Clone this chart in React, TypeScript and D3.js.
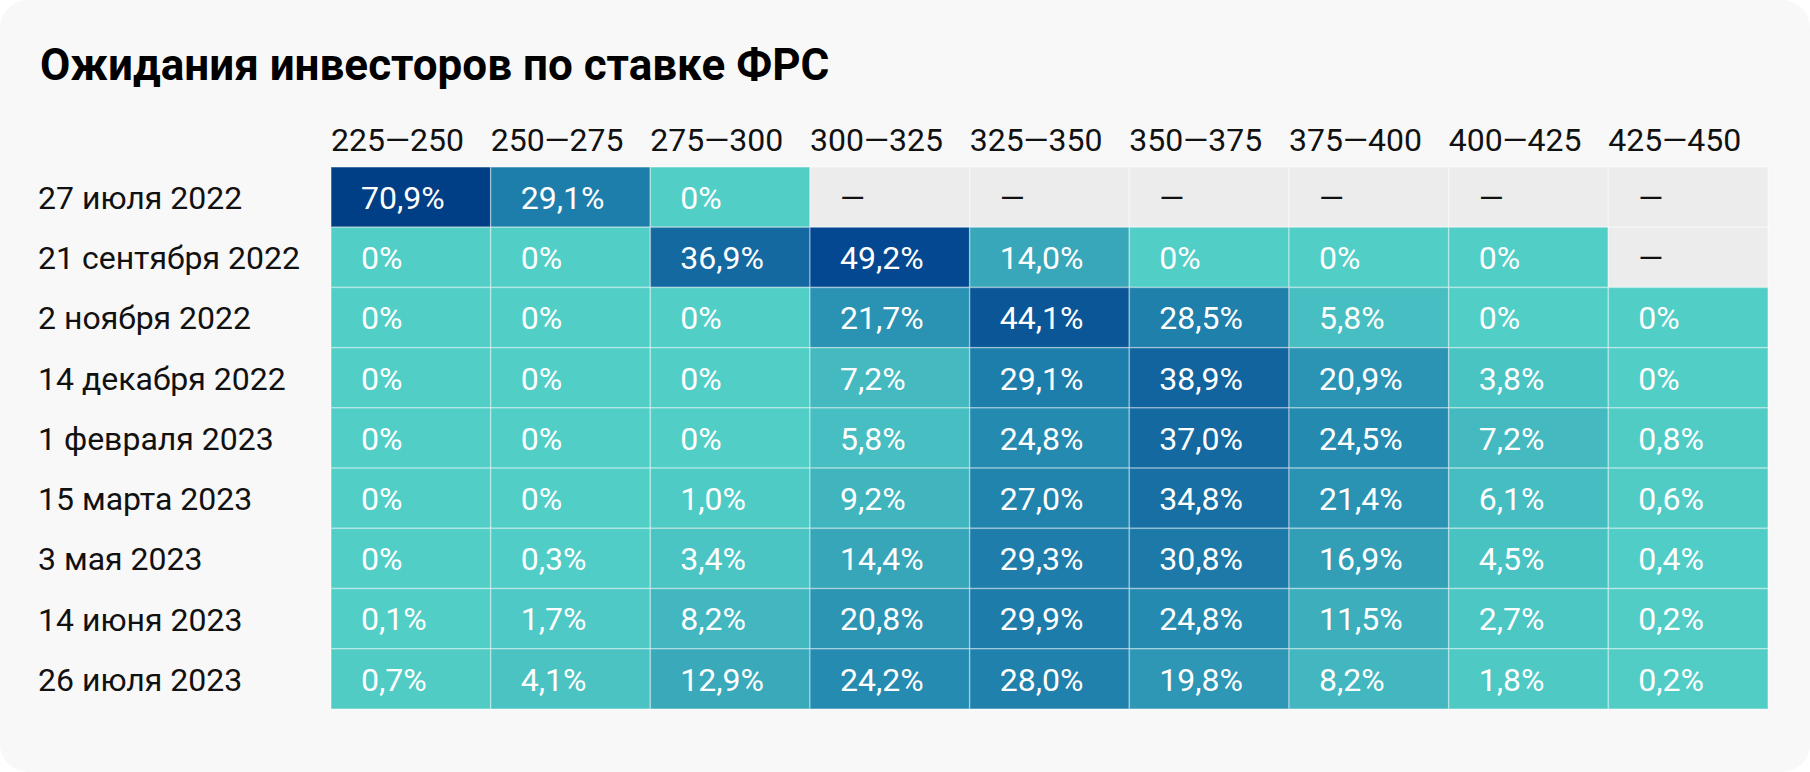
import React, { useEffect, useRef } from 'react';
import * as d3 from 'd3';

// Meeting dates (rows) and rate ranges in b.p. (columns)
const dates = [
  '27 июля 2022',
  '21 сентября 2022',
  '2 ноября 2022',
  '14 декабря 2022',
  '1 февраля 2023',
  '15 марта 2023',
  '3 мая 2023',
  '14 июня 2023',
  '26 июля 2023',
];

const ranges = ['225—250', '250—275', '275—300', '300—325', '325—350', '350—375', '375—400', '400—425', '425—450'];

// probabilities, %; null = no data (dash)
const jul22 = [70.9, 29.1, 0, null, null, null, null, null, null];
const sep22 = [0, 0, 36.9, 49.2, 14.0, 0, 0, 0, null];
const nov22 = [0, 0, 0, 21.7, 44.1, 28.5, 5.8, 0, 0];
const dec22 = [0, 0, 0, 7.2, 29.1, 38.9, 20.9, 3.8, 0];
const feb23 = [0, 0, 0, 5.8, 24.8, 37.0, 24.5, 7.2, 0.8];
const mar23 = [0, 0, 1.0, 9.2, 27.0, 34.8, 21.4, 6.1, 0.6];
const may23 = [0, 0.3, 3.4, 14.4, 29.3, 30.8, 16.9, 4.5, 0.4];
const jun23 = [0.1, 1.7, 8.2, 20.8, 29.9, 24.8, 11.5, 2.7, 0.2];
const jul23 = [0.7, 4.1, 12.9, 24.2, 28.0, 19.8, 8.2, 1.8, 0.2];

const values: (number | null)[][] = [jul22, sep22, nov22, dec22, feb23, mar23, may23, jun23, jul23];

const W = 1810;
const H = 772;
const FONT = 'Roboto, "Noto Sans", sans-serif';

const fmt = (v: number) => (v === 0 ? '0%' : v.toFixed(1).replace('.', ',') + '%');

const App: React.FC = () => {
  const svgRef = useRef<SVGSVGElement>(null);

  useEffect(() => {
    document.body.style.margin = '0';
    if (!svgRef.current) return;
    const svg = d3.select(svgRef.current);
    svg.selectAll('*').remove();

    // card
    svg.append('rect')
      .attr('x', 0).attr('y', 0)
      .attr('width', W).attr('height', H)
      .attr('rx', 28)
      .attr('fill', '#f8f8f8');

    svg.append('text')
      .text('Ожидания инвесторов по ставке ФРС')
      .attr('x', 40).attr('y', 80)
      .attr('font-family', FONT)
      .attr('font-weight', 700)
      .attr('font-size', 44)
      .attr('fill', '#000');

    const x = d3.scaleBand().domain(ranges).range([331, 1768]);
    const y = d3.scaleBand().domain(dates).range([167, 709]);

    const color = d3.scaleLinear<string>()
      .domain([0, 25, 50, 71])
      .range(['#51cec6', '#2489b0', '#02468f', '#003e85'])
      .clamp(true);

    // column headers
    svg.append('g').selectAll('text')
      .data(ranges)
      .enter()
      .append('text')
      .text(d => d)
      .attr('x', d => x(d)!)
      .attr('y', 151)
      .attr('font-family', FONT)
      .attr('font-size', 32)
      .attr('fill', '#111');

    // row labels
    svg.append('g').selectAll('text')
      .data(dates)
      .enter()
      .append('text')
      .text(d => d)
      .attr('x', 38)
      .attr('y', d => y(d)! + y.bandwidth() / 2)
      .attr('dy', '0.37em')
      .attr('font-family', FONT)
      .attr('font-size', 32)
      .attr('fill', '#111');

    const cells = values.flatMap((row, r) => row.map((v, c) => ({ r, c, v })));

    const cell = svg.append('g').selectAll('g')
      .data(cells)
      .enter()
      .append('g')
      .attr('transform', d => `translate(${x(ranges[d.c])}, ${y(dates[d.r])})`);

    cell.append('rect')
      .attr('width', x.bandwidth())
      .attr('height', y.bandwidth())
      .attr('fill', d => (d.v === null ? '#ececec' : color(d.v)))
      .attr('stroke', 'rgba(255,255,255,0.35)')
      .attr('stroke-width', 1.5);

    cell.append('text')
      .text(d => (d.v === null ? '—' : fmt(d.v)))
      .attr('x', 30)
      .attr('y', y.bandwidth() / 2)
      .attr('dy', '0.37em')
      .attr('font-family', FONT)
      .attr('font-size', 32)
      .attr('fill', d => (d.v === null ? '#111' : '#fff'));
  }, []);

  return <svg ref={svgRef} width={W} height={H} style={{ display: 'block', background: '#fff' }} />;
};

export default App;
